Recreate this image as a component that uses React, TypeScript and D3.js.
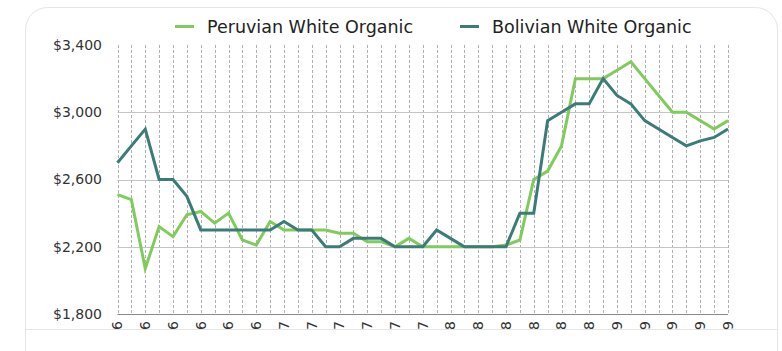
import React from "react";
import * as d3 from "d3";

const peruvian = [
  2510, 2480, 2070, 2320, 2260, 2390, 2410, 2340, 2400, 2240, 2210, 2350, 2300, 2300, 2300, 2300,
  2280, 2280, 2230, 2230, 2200, 2250, 2200, 2200, 2200, 2200, 2200, 2200, 2210, 2240, 2600, 2650,
  2800, 3200, 3200, 3200, 3250, 3300, 3200, 3100, 3000, 3000, 2950, 2900, 2950,
];
const bolivian = [
  2700, 2800, 2900, 2600, 2600, 2500, 2300, 2300, 2300, 2300, 2300, 2300, 2350, 2300, 2300, 2200,
  2200, 2250, 2250, 2250, 2200, 2200, 2200, 2300, 2250, 2200, 2200, 2200, 2200, 2400, 2400, 2950,
  3000, 3050, 3050, 3200, 3100, 3050, 2950, 2900, 2850, 2800, 2830, 2850, 2900,
];
const xTickLabels = [
  "6", "6", "6", "6", "6", "6", "7", "7", "7", "7", "7", "7",
  "8", "8", "8", "8", "8", "8", "9", "9", "9", "9", "9",
];
const yTicks = [1800, 2200, 2600, 3000, 3400];
const seriesNames = ["Peruvian White Organic", "Bolivian White Organic"];
const seriesColors = ["#80cb5c", "#3b7c78"];

const W = 782;
const H = 351;

export default function App() {
  const idx = d3.range(peruvian.length);
  const x = d3.scaleLinear().domain([0, peruvian.length - 1]).range([117.5, 728]);
  const y = d3.scaleLinear().domain([1800, 3400]).range([314, 45]);
  const line = d3
    .line<number>()
    .x((_, i) => x(i))
    .y((d) => y(d));
  const fmt = (v: number) => "$" + d3.format(",")(v);
  const font = "'DejaVu Sans', sans-serif";

  return (
    <svg
      width={W}
      height={H}
      style={{ position: "absolute", left: 0, top: 0, background: "#fff" }}
    >
      <rect x={25.5} y={7.5} width={752} height={400} rx={22} fill="#fff" stroke="#e6e6e6" />
      <line x1={25} x2={778} y1={329.5} y2={329.5} stroke="#e6e6e6" />

      {/* vertical dashed grid */}
      {idx.map((i) => (
        <line
          key={"vg" + i}
          x1={Math.round(x(i)) + 0.5}
          x2={Math.round(x(i)) + 0.5}
          y1={y(3400)}
          y2={y(1800)}
          stroke="#b0b0b0"
          strokeWidth={1}
          strokeDasharray="3,2"
        />
      ))}
      {/* horizontal grid */}
      {yTicks.slice(1, -1).map((t) => (
        <line
          key={"hg" + t}
          x1={x(0)}
          x2={x(peruvian.length - 1)}
          y1={Math.round(y(t)) + 0.5}
          y2={Math.round(y(t)) + 0.5}
          stroke="#c4c4c4"
        />
      ))}
      <line
        x1={x(0)}
        x2={x(peruvian.length - 1)}
        y1={Math.round(y(1800)) + 0.5}
        y2={Math.round(y(1800)) + 0.5}
        stroke="#8a8a8a"
      />

      {/* y labels */}
      {yTicks.map((t) => (
        <text
          key={"yl" + t}
          x={102}
          y={y(t)}
          dy="0.35em"
          textAnchor="end"
          fontFamily={font}
          fontSize={14}
          fill="#333"
        >
          {fmt(t)}
        </text>
      ))}

      {/* x labels */}
      {xTickLabels.map((l, k) => (
        <text
          key={"xl" + k}
          transform={`translate(${x(k * 2)},${321}) rotate(-90)`}
          dy="0.35em"
          textAnchor="end"
          fontFamily={font}
          fontSize={14}
          fill="#333"
        >
          {l}
        </text>
      ))}

      {/* lines */}
      {[peruvian, bolivian].map((s, si) => (
        <path
          key={"s" + si}
          d={line(s) || ""}
          fill="none"
          stroke={seriesColors[si]}
          strokeWidth={3}
          strokeLinejoin="miter"
        />
      ))}

      {/* legend */}
      {seriesNames.map((n, si) => {
        const lx = si === 0 ? 175 : 460;
        return (
          <g key={"lg" + si}>
            <line x1={lx} x2={lx + 19} y1={26.5} y2={26.5} stroke={seriesColors[si]} strokeWidth={3} />
            <text x={lx + 32} y={32.5} fontFamily={font} fontSize={17.5} fill="#222">
              {n}
            </text>
          </g>
        );
      })}
    </svg>
  );
}
